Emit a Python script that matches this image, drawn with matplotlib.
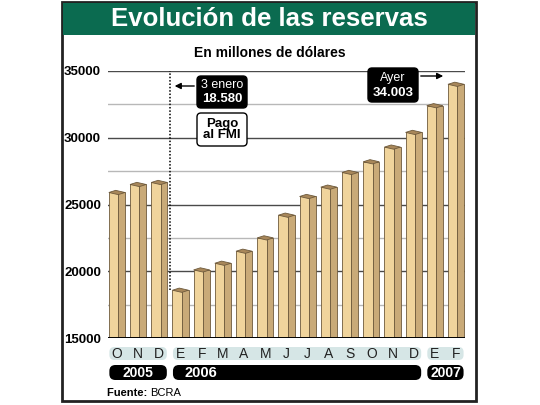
import matplotlib
matplotlib.use("Agg")
import matplotlib.pyplot as plt
from matplotlib.patches import FancyBboxPatch, Polygon, Rectangle
from matplotlib.ticker import MultipleLocator

plt.rcParams["font.family"] = ["Liberation Sans Narrow", "Liberation Sans", "DejaVu Sans"]

months = ["O", "N", "D", "E", "F", "M", "A", "M", "J", "J", "A", "S", "O", "N", "D", "E", "F"]
reserves = [25900, 26500, 26650, 18580, 20100, 20600, 21500, 22500, 24200, 25600,
            26300, 27400, 28200, 29300, 30400, 32400, 34003]
years = ["2005", "2006", "2007"]
year_spans = [(0, 2), (3, 14), (15, 16)]
ytick_values = [15000, 20000, 25000, 30000, 35000]

title = "Evolución de las reservas"
subtitle = "En millones de dólares"
note_payment = ("3 enero", "18.580")
note_imf = "Pago\nal FMI"
note_last = ("Ayer", "34.003")

green = "#0b6b50"
front = "#f0d49c"
side = "#c9aa78"
cap = "#a8875a"
edge = "#6e5a3c"

fig = plt.figure(figsize=(5.4, 4.05), dpi=100)
ax = fig.add_axes([0.2, 0.1654, 0.661, 0.6593])
ax.set_xlim(-0.42, len(months) - 1 + 0.42)
ax.set_ylim(15000, 35000)

ax.yaxis.set_major_locator(MultipleLocator(5000))
ax.yaxis.set_minor_locator(MultipleLocator(2500))
ax.grid(which="major", axis="y", color="#4a4a4a", lw=1.0, zorder=0)
ax.grid(which="minor", axis="y", color="#b8b8b8", lw=1.0, zorder=0)
ax.set_yticks(ytick_values)
ax.set_yticklabels([str(v) for v in ytick_values], fontweight="bold", fontsize=9.5)
ax.tick_params(axis="y", length=0, pad=5, which="both")
ax.set_xticks([])
for s in ax.spines.values():
    s.set_visible(False)

# pseudo-3D bars
w = 0.76
wf = 0.44
dv = 160
for i, v in enumerate(reserves):
    x0 = i - w / 2
    ax.bar(x0, v - 15000, bottom=15000, width=wf, align="edge", color=front,
           edgecolor=edge, lw=0.6, zorder=3)
    ax.bar(x0 + wf, v - 15000, bottom=15000, width=w - wf, align="edge", color=side,
           edgecolor=edge, lw=0.6, zorder=3)
    ax.add_patch(Polygon([(x0, v), (x0 + wf, v - dv), (x0 + w, v), (x0 + w - wf, v + dv)],
                         closed=True, facecolor=cap, edgecolor=edge, lw=0.6, zorder=4))

ax.axhline(15000, color="black", lw=1.4, zorder=5)

# dotted line at the IMF payment
pay_x = 2.5
ax.plot([pay_x, pay_x], [reserves[3], 35000], color="black", ls=(0, (1, 1.2)), lw=1.1, zorder=5)

# overlay in pixel coordinates for decorations
ov = fig.add_axes([0, 0, 1, 1], zorder=10)
ov.set_xlim(0, 540)
ov.set_ylim(405, 0)
ov.axis("off")
ov.patch.set_alpha(0)

# frame and title banner
ov.add_patch(Rectangle((62, 2), 414, 399, facecolor="none", edgecolor="#222222", lw=2.0))
ov.add_patch(Rectangle((63, 3), 412, 32, facecolor=green, edgecolor="none"))
ov.text(269, 19, title, color="white", fontsize=18.5, fontweight="bold", ha="center", va="center")
ov.text(270, 53, subtitle, color="black", fontsize=10, fontweight="bold", ha="center", va="center")


def px(i):
    return ax.transData.transform((i, 15000))[0]


# month and year bands
for (a, b), yr in zip(year_spans, years):
    xa = px(a - 0.45)
    xb = px(b + 0.45)
    ov.add_patch(FancyBboxPatch((xa + 2, 347), xb - xa - 4, 13,
                                boxstyle="round,pad=0,rounding_size=5",
                                facecolor="#d6e6e6", edgecolor="none"))
    ov.add_patch(FancyBboxPatch((xa + 2, 365), xb - xa - 4, 15,
                                boxstyle="round,pad=0,rounding_size=6",
                                facecolor="black", edgecolor="none"))
    if yr == "2006":
        ov.text(xa + 14, 373, yr, color="white", fontsize=10.5, fontweight="bold",
                ha="left", va="center")
    else:
        ov.text((xa + xb) / 2, 373, yr, color="white", fontsize=10, fontweight="bold",
                ha="center", va="center")

for i, m in enumerate(months):
    ov.text(px(i), 354, m, fontsize=10, ha="center", va="center", color="#222222")

src = ov.text(107, 393, "Fuente: ", fontsize=8, fontweight="bold", ha="left", va="center")
ov.annotate("BCRA", xy=(1, 0.5), xycoords=src, fontsize=8, ha="left", va="center")

# annotation: payment date
ov.add_patch(FancyBboxPatch((197, 76), 50, 32, boxstyle="round,pad=0,rounding_size=4",
                            facecolor="black", edgecolor="black"))
ov.text(222, 85, note_payment[0], color="white", fontsize=9, ha="center", va="center")
ov.text(222, 99, note_payment[1], color="white", fontsize=9.5, fontweight="bold",
        ha="center", va="center")
ov.annotate("", xy=(px(pay_x) + 2, 86), xytext=(197, 86),
            arrowprops=dict(arrowstyle="-|>", color="black", lw=1.0, mutation_scale=9))
ov.add_patch(FancyBboxPatch((197, 113), 50, 33, boxstyle="round,pad=0,rounding_size=4",
                            facecolor="white", edgecolor="black", lw=1.0))
ov.text(222, 129.5, note_imf, color="black", fontsize=9.5, fontweight="bold",
        ha="center", va="center", linespacing=1.0)

# annotation: latest value
ov.add_patch(FancyBboxPatch((368, 68), 50, 34, boxstyle="round,pad=0,rounding_size=4",
                            facecolor="black", edgecolor="black"))
ov.text(393, 78, note_last[0], color="white", fontsize=9, ha="center", va="center")
ov.text(393, 93, note_last[1], color="white", fontsize=9.5, fontweight="bold",
        ha="center", va="center")
ov.annotate("", xy=(446, 76), xytext=(418, 76),
            arrowprops=dict(arrowstyle="-|>", color="black", lw=1.0, mutation_scale=9))

fig.savefig("out.png", dpi=100)
